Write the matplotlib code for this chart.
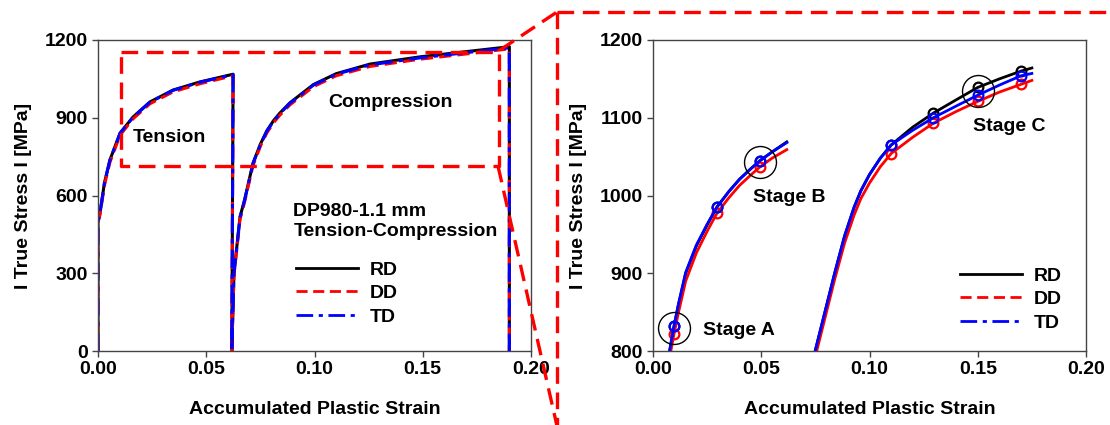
import matplotlib
matplotlib.use("Agg")
import matplotlib.pyplot as plt
from matplotlib.lines import Line2D

plt.rcParams["font.family"] = ["Liberation Sans", "DejaVu Sans"]
plt.rcParams["font.weight"] = "bold"
plt.rcParams["axes.labelweight"] = "bold"

# ---- full cycle (left panel): tension -> unload -> compression -> unload
full_strain = [0.0, 0.0, 0.0009, 0.003, 0.0055, 0.0102, 0.0162, 0.024, 0.0347, 0.047, 0.0624,
               0.0618, 0.0628, 0.0656, 0.0677, 0.0716, 0.075, 0.078, 0.081, 0.084, 0.0887,
               0.0995, 0.110, 0.1256, 0.1487, 0.172, 0.190, 0.190]
rd_full = [0, 500, 532, 650, 737, 841, 903, 961, 1007, 1038, 1068,
           0, 300, 518, 583, 725, 798, 850, 888, 918, 958,
           1028, 1070, 1107, 1135, 1157, 1174, 0]
dd_full = [0, 495, 525, 640, 728, 833, 896, 954, 1000, 1031, 1062,
           0, 292, 508, 575, 716, 790, 842, 880, 910, 950,
           1020, 1062, 1098, 1126, 1148, 1166, 0]
td_full = [0, 500, 531, 648, 736, 840, 902, 960, 1006, 1037, 1066,
           0, 298, 515, 581, 723, 796, 848, 886, 916, 956,
           1026, 1068, 1104, 1131, 1153, 1170, 0]

# ---- zoomed branches (right panel)
ten_strain = [0.0077, 0.0097, 0.0118, 0.0151, 0.020, 0.025, 0.0295, 0.035, 0.040,
              0.045, 0.0495, 0.055, 0.0618]
rd_ten = [800, 832, 860, 900, 935, 962, 985, 1005, 1021, 1034, 1045, 1056, 1069]
dd_ten = [792, 822, 850, 890, 926, 954, 977, 997, 1013, 1026, 1037, 1048, 1059]
td_ten = [801, 832, 861, 901, 936, 963, 985, 1005, 1021, 1034, 1045, 1056, 1068]
ten_marks = [1, 6, 10]

com_strain = [0.0749, 0.0785, 0.0839, 0.0885, 0.0929, 0.096, 0.100, 0.105, 0.110, 0.120,
              0.1295, 0.140, 0.150, 0.160, 0.170, 0.175]
rd_com = [800, 840, 900, 948, 985, 1006, 1027, 1048, 1065, 1088, 1106, 1123, 1139, 1150,
          1160, 1164]
dd_com = [792, 832, 892, 939, 975, 996, 1016, 1037, 1054, 1075, 1093, 1108, 1121, 1133,
          1143, 1148]
td_com = [800, 840, 900, 948, 985, 1006, 1027, 1048, 1065, 1084, 1100, 1115, 1129, 1142,
          1154, 1157]
com_marks = [8, 10, 12, 14]

stage_names = ["Stage A", "Stage B", "Stage C"]
stage_strain = [0.0097, 0.0495, 0.150]
stage_stress = [829, 1043, 1135]

directions = ["RD", "DD", "TD"]
colors = ["black", "#ff0000", "#0000ff"]
styles = ["-", (0, (4, 2)), (0, (6, 2, 1.5, 2))]

W, H = 1110, 425
FS = 14
fig = plt.figure(figsize=(W / 100, H / 100), dpi=100)


def fx(px):
    return px / W


def fy(py):
    return 1 - py / H


ax1 = fig.add_axes([fx(98), fy(351), 433 / W, 311 / H])
ax2 = fig.add_axes([fx(653), fy(351), 433 / W, 311 / H])

for ys, c, ls in zip([rd_full, dd_full, td_full], colors, styles):
    ax1.plot(full_strain, ys, color=c, ls=ls, lw=2.2)

for yt, yc, c in zip([rd_ten, dd_ten, td_ten], [rd_com, dd_com, td_com], colors):
    ax2.plot(ten_strain, yt, color=c, lw=2, marker="o", ms=7, mfc="none", mew=1.6,
             markevery=ten_marks)
    ax2.plot(com_strain, yc, color=c, lw=2, marker="o", ms=7, mfc="none", mew=1.6,
             markevery=com_marks)

ax2.plot(stage_strain, stage_stress, ls="none", marker="o", ms=23, mfc="none",
         mec="black", mew=1)
stage_offsets = [(0.0134, -2), (-0.0035, -45), (-0.002, -46)]
for name, sx, sy, (dx, dy) in zip(stage_names, stage_strain, stage_stress, stage_offsets):
    ax2.text(sx + dx, sy + dy, name, fontsize=FS, fontweight="bold",
             ha="left", va="center")

# zoom-window outline on the full-cycle panel
bx = [0.0105, 0.185, 0.185, 0.0105, 0.0105]
by = [1152, 1152, 714, 714, 1152]
ax1.plot(bx, by, color="#ff0000", lw=2.4, ls=(0, (5, 2.6)))

ax1.text(0.0162, 822, "Tension", fontsize=FS, va="center", ha="left")
ax1.text(0.1062, 957, "Compression", fontsize=FS, va="center", ha="left")
ax1.text(0.0902, 500, "DP980-1.1 mm\nTension-Compression", fontsize=FS,
         va="center", ha="left", linespacing=1.2)

for ax, ylim, yticks in [(ax1, (0, 1200), [0, 300, 600, 900, 1200]),
                         (ax2, (800, 1200), [800, 900, 1000, 1100, 1200])]:
    ax.set_xlim(0, 0.2)
    ax.set_ylim(*ylim)
    ax.set_yticks(yticks)
    ax.set_xticks([0, 0.05, 0.10, 0.15, 0.20])
    ax.set_xticklabels(["0.00", "0.05", "0.10", "0.15", "0.20"])
    ax.tick_params(direction="out", length=4, width=1, labelsize=FS, color="#444444")
    for lab in ax.get_xticklabels() + ax.get_yticklabels():
        lab.set_fontweight("bold")
    for sp in ax.spines.values():
        sp.set_color("#444444")
        sp.set_linewidth(1)
    ax.set_xlabel("Accumulated Plastic Strain", fontsize=FS, labelpad=16)
    ax.set_ylabel("I True Stress I [MPa]", fontsize=FS, labelpad=9)

handles = [Line2D([], [], color=c, ls=ls, lw=2) for c, ls in zip(colors, styles)]
leg_kw = dict(frameon=False, fontsize=FS, handlelength=3.2, handletextpad=0.6,
              labelspacing=0.3, borderpad=0, borderaxespad=0, loc="upper left")
fig.legend(handles, directions, bbox_to_anchor=(fx(296), fy(261)), **leg_kw)
fig.legend(handles, directions, bbox_to_anchor=(fx(960), fy(267)), **leg_kw)

# callout frame and connectors to the zoomed panel
red_dash = dict(color="#ff0000", lw=2.4, ls=(0, (5, 2.6)), transform=fig.transFigure)
fig.add_artist(Line2D([fx(557), fx(1112)], [fy(12), fy(12)], **red_dash))
fig.add_artist(Line2D([fx(557), fx(557)], [fy(12), fy(426)], **red_dash))
fig.add_artist(Line2D([fx(500), fx(557)], [fy(50), fy(12)], **red_dash))
fig.add_artist(Line2D([fx(498), fx(557)], [fy(166), fy(426)], **red_dash))

fig.savefig("out.png", dpi=100)
